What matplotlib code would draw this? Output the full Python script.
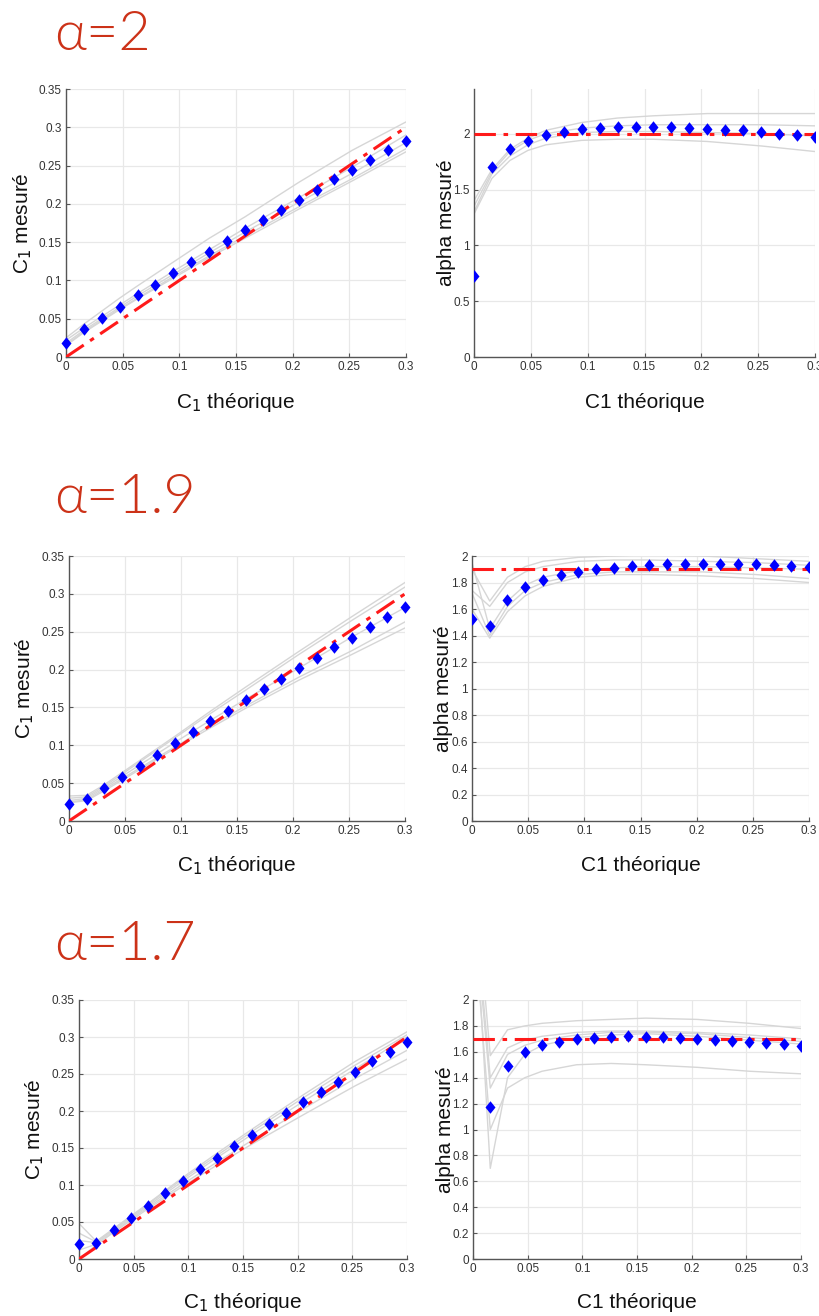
import matplotlib
matplotlib.use("Agg")
import matplotlib.pyplot as plt
import numpy as np

# ---------------- data ----------------
c1_theo = [0.0, 0.0158, 0.0316, 0.0474, 0.0632, 0.0789, 0.0947, 0.1105, 0.1263, 0.1421,
           0.1579, 0.1737, 0.1895, 0.2053, 0.2211, 0.2368, 0.2526, 0.2684, 0.2842, 0.3]
gray_x = [0.0, 0.0158, 0.0316, 0.0474, 0.0632, 0.0947, 0.1263, 0.1579, 0.2053, 0.2526, 0.3]

alphas = [2.0, 1.9, 1.7]
titles = ["α=2", "α=1.9", "α=1.7"]

# alpha = 2
c1_meas_a20 = [0.0187, 0.036, 0.0506, 0.0654, 0.0806, 0.0946, 0.1098, 0.1238, 0.1377, 0.1513,
               0.1656, 0.1783, 0.1922, 0.2053, 0.2184, 0.2319, 0.2441, 0.2572, 0.2698, 0.2816]
alpha_meas_a20 = [0.723, 1.704, 1.859, 1.937, 1.985, 2.018, 2.039, 2.051, 2.060, 2.060,
                  2.060, 2.060, 2.051, 2.042, 2.036, 2.030, 2.018, 2.000, 1.988, 1.973]
c1_gray_a20 = [
    [0.025, 0.043, 0.060, 0.077, 0.093, 0.124, 0.155, 0.183, 0.228, 0.270, 0.307],
    [0.022, 0.038, 0.053, 0.068, 0.083, 0.112, 0.140, 0.168, 0.208, 0.248, 0.290],
    [0.018, 0.035, 0.050, 0.065, 0.080, 0.108, 0.136, 0.163, 0.202, 0.240, 0.280],
    [0.016, 0.033, 0.048, 0.063, 0.077, 0.105, 0.132, 0.158, 0.196, 0.233, 0.272],
    [0.015, 0.032, 0.047, 0.062, 0.076, 0.103, 0.130, 0.155, 0.193, 0.230, 0.268],
]
alpha_gray_a20 = [
    [1.40, 1.68, 1.86, 1.96, 2.03, 2.10, 2.14, 2.16, 2.18, 2.18, 2.18],
    [1.35, 1.66, 1.84, 1.94, 2.00, 2.05, 2.07, 2.08, 2.08, 2.08, 2.07],
    [1.30, 1.64, 1.80, 1.90, 1.96, 2.01, 2.02, 2.02, 2.01, 2.00, 1.98],
    [1.28, 1.60, 1.76, 1.85, 1.90, 1.94, 1.95, 1.95, 1.93, 1.89, 1.84],
]

# alpha = 1.9
c1_meas_a19 = [0.0225, 0.0287, 0.0437, 0.0587, 0.0728, 0.0874, 0.1028, 0.1169, 0.1315, 0.1452,
               0.1602, 0.1739, 0.1876, 0.2021, 0.2154, 0.2299, 0.2423, 0.2560, 0.2696, 0.2824]
alpha_meas_a19 = [1.522, 1.474, 1.668, 1.764, 1.821, 1.854, 1.882, 1.899, 1.912, 1.925,
                  1.932, 1.937, 1.937, 1.937, 1.937, 1.937, 1.937, 1.930, 1.927, 1.919]
c1_gray_a19 = [
    [0.033, 0.034, 0.048, 0.064, 0.080, 0.112, 0.145, 0.177, 0.224, 0.270, 0.315],
    [0.030, 0.032, 0.046, 0.062, 0.078, 0.110, 0.142, 0.173, 0.220, 0.265, 0.309],
    [0.027, 0.030, 0.044, 0.059, 0.074, 0.104, 0.133, 0.161, 0.202, 0.243, 0.282],
    [0.025, 0.028, 0.042, 0.056, 0.070, 0.098, 0.126, 0.152, 0.190, 0.225, 0.263],
    [0.024, 0.027, 0.040, 0.054, 0.068, 0.096, 0.123, 0.149, 0.186, 0.220, 0.255],
]
alpha_gray_a19 = [
    [1.90, 1.66, 1.84, 1.92, 1.96, 1.99, 2.00, 2.01, 2.00, 1.98, 1.96],
    [1.74, 1.62, 1.80, 1.88, 1.92, 1.96, 1.97, 1.97, 1.96, 1.95, 1.93],
    [1.72, 1.40, 1.62, 1.74, 1.80, 1.86, 1.88, 1.88, 1.88, 1.86, 1.83],
    [1.60, 1.38, 1.58, 1.70, 1.77, 1.84, 1.86, 1.86, 1.85, 1.83, 1.80],
    [1.95, 1.45, 1.66, 1.78, 1.84, 1.89, 1.91, 1.92, 1.92, 1.91, 1.90],
]

# alpha = 1.7
c1_meas_a17 = [0.0203, 0.0212, 0.0387, 0.0554, 0.0720, 0.0896, 0.1049, 0.1211, 0.1359, 0.1521,
               0.1670, 0.1818, 0.1967, 0.2115, 0.2255, 0.2394, 0.2529, 0.2669, 0.2804, 0.2939]
alpha_meas_a17 = [2.60, 1.172, 1.491, 1.599, 1.653, 1.679, 1.702, 1.710, 1.715, 1.725,
                  1.715, 1.715, 1.710, 1.697, 1.692, 1.684, 1.674, 1.668, 1.658, 1.645]
c1_gray_a17 = [
    [0.048, 0.024, 0.041, 0.058, 0.075, 0.110, 0.143, 0.175, 0.222, 0.267, 0.307],
    [0.035, 0.023, 0.040, 0.057, 0.074, 0.108, 0.140, 0.172, 0.218, 0.262, 0.303],
    [0.025, 0.022, 0.039, 0.056, 0.072, 0.105, 0.137, 0.168, 0.213, 0.257, 0.300],
    [0.012, 0.020, 0.037, 0.054, 0.070, 0.101, 0.131, 0.160, 0.203, 0.244, 0.282],
    [0.000, 0.019, 0.036, 0.052, 0.068, 0.098, 0.127, 0.155, 0.195, 0.234, 0.270],
]
alpha_gray_a17 = [
    [3.10, 1.57, 1.77, 1.80, 1.82, 1.84, 1.85, 1.86, 1.85, 1.82, 1.78],
    [2.90, 1.40, 1.63, 1.69, 1.72, 1.75, 1.76, 1.76, 1.75, 1.73, 1.70],
    [2.80, 1.32, 1.58, 1.65, 1.69, 1.73, 1.75, 1.75, 1.74, 1.71, 1.68],
    [2.70, 1.00, 1.32, 1.40, 1.45, 1.50, 1.51, 1.50, 1.48, 1.45, 1.43],
    [3.00, 0.70, 1.40, 1.58, 1.65, 1.71, 1.73, 1.74, 1.72, 1.69, 1.66],
]

c1_ticks = [0, 0.05, 0.1, 0.15, 0.2, 0.25, 0.3]
c1_tick_labels = ["0", "0.05", "0.1", "0.15", "0.2", "0.25", "0.3"]
c1y_ticks = [0, 0.05, 0.1, 0.15, 0.2, 0.25, 0.3, 0.35]
c1y_tick_labels = ["0", "0.05", "0.1", "0.15", "0.2", "0.25", "0.3", "0.35"]
alpha_ticks_wide = [0, 0.5, 1, 1.5, 2]
alpha_tick_labels_wide = ["0", "0.5", "1", "1.5", "2"]
alpha_ticks_fine = [0, 0.2, 0.4, 0.6, 0.8, 1, 1.2, 1.4, 1.6, 1.8, 2]
alpha_tick_labels_fine = ["0", "0.2", "0.4", "0.6", "0.8", "1", "1.2", "1.4", "1.6", "1.8", "2"]

# ---------------- figure ----------------
W, H = 819, 1316
fig = plt.figure(figsize=(W / 100, H / 100), dpi=100)
fig.patch.set_facecolor("white")

LABEL_FONT = ["Liberation Sans", "DejaVu Sans"]
TITLE_COLOR = "#cc3218"
GRID_COLOR = "#e8e8e8"
GRAY_LINE = "#d6d6d6"
DIAMOND = [(0, 1), (0.8, 0), (0, -1), (-0.8, 0), (0, 1)]


def px_axes(left, right, top, bottom):
    return fig.add_axes([left / W, (H - bottom) / H, (right - left) / W, (bottom - top) / H])


def style_axes(ax, xt, xtl, yt, ytl, ylim):
    ax.set_xlim(0, 0.3)
    ax.set_ylim(*ylim)
    ax.set_xticks(xt)
    ax.set_xticklabels(xtl)
    ax.set_yticks(yt)
    ax.set_yticklabels(ytl)
    for s in ("top", "right"):
        ax.spines[s].set_visible(False)
    for s in ("left", "bottom"):
        ax.spines[s].set_color("#555555")
        ax.spines[s].set_linewidth(1.0)
    ax.grid(True, color=GRID_COLOR, linewidth=0.9)
    ax.set_axisbelow(True)
    ax.tick_params(direction="in", length=3, width=0.8, colors="#555555",
                   labelcolor="#333333", labelsize=8.5, pad=3)
    for lab in ax.get_xticklabels() + ax.get_yticklabels():
        lab.set_fontfamily(LABEL_FONT)


def draw_c1(ax, meas, grays):
    for g in grays:
        ax.plot(gray_x, g, color=GRAY_LINE, lw=1.0, zorder=2)
    ax.plot([c1_theo[0], c1_theo[-1]], [c1_theo[0], c1_theo[-1]], color="#ff1a1a",
            lw=2.2, dashes=(7, 2.5, 1.5, 2.5), zorder=3)
    ax.plot(c1_theo, meas, linestyle="none", marker=DIAMOND, markersize=9,
            color="#0000ff", markeredgewidth=0, zorder=4, clip_on=False)


def draw_alpha(ax, meas, grays, a):
    for g in grays:
        ax.plot(gray_x, g, color=GRAY_LINE, lw=1.0, zorder=2)
    ax.plot([c1_theo[0], c1_theo[-1]], [a, a], color="#ff1a1a",
            lw=2.2, dashes=(7, 2.5, 1.5, 2.5), zorder=3)
    ax.plot(c1_theo, meas, linestyle="none", marker=DIAMOND, markersize=9,
            color="#0000ff", markeredgewidth=0, zorder=4)


def labels(ax, xlab, ylab, ylab_x, xlab_y=-0.168):
    ax.text(ylab_x, 0.5, ylab, transform=ax.transAxes, rotation=90, ha="center",
            va="center", fontsize=15, family=LABEL_FONT, color="#111111")
    ax.text(0.5, xlab_y, xlab, transform=ax.transAxes, ha="center", va="center",
            fontsize=15, family=LABEL_FONT, color="#111111")


boxes = [
    ((66, 406, 89, 357), (474, 815, 89, 357)),
    ((69, 405, 556, 821), (472, 809, 556, 821)),
    ((79, 407, 1000, 1259), (473, 801, 1000, 1259)),
]
title_base = [50, 513, 960]
c1_series = [c1_meas_a20, c1_meas_a19, c1_meas_a17]
alpha_series = [alpha_meas_a20, alpha_meas_a19, alpha_meas_a17]
c1_grays = [c1_gray_a20, c1_gray_a19, c1_gray_a17]
alpha_grays = [alpha_gray_a20, alpha_gray_a19, alpha_gray_a17]
ylab_left = [-0.126, -0.131, -0.134]
ylab_right = [-0.082, -0.086, -0.085]

for i in range(3):
    (lb, rb) = boxes[i]
    axl = px_axes(*lb)
    draw_c1(axl, c1_series[i], c1_grays[i])
    style_axes(axl, c1_ticks, c1_tick_labels, c1y_ticks, c1y_tick_labels, (0, 0.35))
    labels(axl, "C$_1$ théorique", "C$_1$ mesuré", ylab_left[i])

    axr = px_axes(*rb)
    draw_alpha(axr, alpha_series[i], alpha_grays[i], alphas[i])
    if i == 0:
        style_axes(axr, c1_ticks, c1_tick_labels, alpha_ticks_wide, alpha_tick_labels_wide, (0, 2.4))
    else:
        style_axes(axr, c1_ticks, c1_tick_labels, alpha_ticks_fine, alpha_tick_labels_fine, (0, 2))
    labels(axr, "C1 théorique", "alpha mesuré", ylab_right[i])

    fig.text(54 / W, (H - title_base[i]) / H, titles[i], ha="left", va="baseline",
             fontsize=40, color=TITLE_COLOR, family=["Lato", "DejaVu Sans"], fontweight=300)

fig.savefig("out.png", dpi=100, facecolor="white")
